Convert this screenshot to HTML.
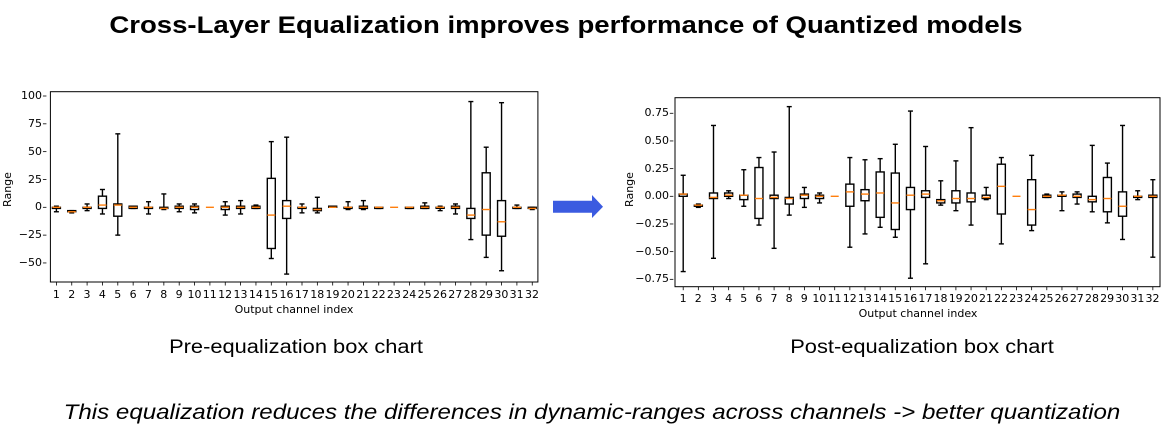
<!DOCTYPE html>
<html><head><meta charset="utf-8"><style>
body{margin:0;width:1170px;height:448px;background:#fff;position:relative;overflow:hidden;font-family:"DejaVu Sans",sans-serif}
.t{position:absolute;white-space:nowrap}
.row{position:absolute;display:flex;font-size:11px;color:#000}
.row span{display:block;text-align:center;overflow:visible;white-space:nowrap}
.yl{position:absolute;font-size:11px;text-align:right;width:40px}
</style></head><body>
<div class="t" style="left:0;width:1132px;text-align:center;top:12px;font:bold 24px 'Liberation Sans',sans-serif;transform:scaleX(1.147)">Cross-Layer Equalization improves performance of Quantized models</div>
<svg id="s" width="1170" height="448" style="position:absolute;left:0;top:0">
<rect x="50.4" y="91.7" width="487.5" height="190.3" fill="none" stroke="#000" stroke-width="1"/>
<rect x="675" y="97.7" width="485" height="189" fill="none" stroke="#000" stroke-width="1"/>
<polygon points="553,200.7 592,200.7 592,195 603,206.7 592,218 592,212.7 553,212.7" fill="#3b5be0"/>
</svg>
<div class="t" style="left:-10px;top:183px;font-size:11px;transform:rotate(-90deg)">Range</div>
<div class="t" style="left:612px;top:183px;font-size:11px;transform:rotate(-90deg)">Range</div>
<div class="yl" style="left:2px;top:89px">100</div>
<div class="yl" style="left:2px;top:117px">75</div>
<div class="yl" style="left:2px;top:145px">50</div>
<div class="yl" style="left:2px;top:173px">25</div>
<div class="yl" style="left:2px;top:200px">0</div>
<div class="yl" style="left:2px;top:228px">−25</div>
<div class="yl" style="left:2px;top:256px">−50</div>
<div class="yl" style="left:629px;top:106px">0.75</div>
<div class="yl" style="left:629px;top:134px">0.50</div>
<div class="yl" style="left:629px;top:162px">0.25</div>
<div class="yl" style="left:629px;top:189px">0.00</div>
<div class="yl" style="left:629px;top:217px">−0.25</div>
<div class="yl" style="left:629px;top:245px">−0.50</div>
<div class="yl" style="left:629px;top:272px">−0.75</div>
<div class="row" style="left:48.7px;top:288px"><span style="width:15.35px">1</span><span style="width:15.35px">2</span><span style="width:15.35px">3</span><span style="width:15.35px">4</span><span style="width:15.35px">5</span><span style="width:15.35px">6</span><span style="width:15.35px">7</span><span style="width:15.35px">8</span><span style="width:15.35px">9</span><span style="width:15.35px">10</span><span style="width:15.35px">11</span><span style="width:15.35px">12</span><span style="width:15.35px">13</span><span style="width:15.35px">14</span><span style="width:15.35px">15</span><span style="width:15.35px">16</span><span style="width:15.35px">17</span><span style="width:15.35px">18</span><span style="width:15.35px">19</span><span style="width:15.35px">20</span><span style="width:15.35px">21</span><span style="width:15.35px">22</span><span style="width:15.35px">23</span><span style="width:15.35px">24</span><span style="width:15.35px">25</span><span style="width:15.35px">26</span><span style="width:15.35px">27</span><span style="width:15.35px">28</span><span style="width:15.35px">29</span><span style="width:15.35px">30</span><span style="width:15.35px">31</span><span style="width:15.35px">32</span></div>
<div class="row" style="left:675.6px;top:292px"><span style="width:15.15px">1</span><span style="width:15.15px">2</span><span style="width:15.15px">3</span><span style="width:15.15px">4</span><span style="width:15.15px">5</span><span style="width:15.15px">6</span><span style="width:15.15px">7</span><span style="width:15.15px">8</span><span style="width:15.15px">9</span><span style="width:15.15px">10</span><span style="width:15.15px">11</span><span style="width:15.15px">12</span><span style="width:15.15px">13</span><span style="width:15.15px">14</span><span style="width:15.15px">15</span><span style="width:15.15px">16</span><span style="width:15.15px">17</span><span style="width:15.15px">18</span><span style="width:15.15px">19</span><span style="width:15.15px">20</span><span style="width:15.15px">21</span><span style="width:15.15px">22</span><span style="width:15.15px">23</span><span style="width:15.15px">24</span><span style="width:15.15px">25</span><span style="width:15.15px">26</span><span style="width:15.15px">27</span><span style="width:15.15px">28</span><span style="width:15.15px">29</span><span style="width:15.15px">30</span><span style="width:15.15px">31</span><span style="width:15.15px">32</span></div>
<div class="t" style="left:194px;width:200px;text-align:center;top:303px;font-size:11px">Output channel index</div>
<div class="t" style="left:818px;width:200px;text-align:center;top:307px;font-size:11px">Output channel index</div>
<div class="t" style="left:146px;width:300px;text-align:center;top:337px;font:19px 'Liberation Sans',sans-serif;transform:scaleX(1.15)">Pre-equalization box chart</div>
<div class="t" style="left:772px;width:300px;text-align:center;top:337px;font:19px 'Liberation Sans',sans-serif;transform:scaleX(1.15)">Post-equalization box chart</div>
<div class="t" style="left:0;width:1184px;text-align:center;top:401px;font:italic 21px 'Liberation Sans',sans-serif;transform:scaleX(1.148)">This equalization reduces the differences in dynamic-ranges across channels -&gt; better quantization</div>
<script>
var L=[[-4,-1,0,0,1],[-5,-4,-4,-3,-3],[-3,-1,0,0,3],[-6,-1,2,10,16],[-25,-8,2,3,66],[-1,-1,0,1,1],[-6,-1,0,0,5],[-2,-1,-1,0,12],[-4,-1,0,1,3],[-5,-2,0,1,3],[0,0,0,0,0],[-7,-2,0,1,5],[-6,-1,0,1,6],[-1,-1,0,1,2],[-46,-37,-7,26,59],[-60,-10,1,6,63],[-5,-1,0,0,3],[-5,-3,-2,-1,9],[0,0,0,1,1],[-2,-1,0,0,5],[-2,-1,0,1,6],[-1,-1,0,0,0],[0,0,0,0,0],[-1,-1,0,0,0],[-1,-1,0,1,4],[-3,0,0,0,1],[-6,-1,0,1,3],[-29,-10,-7,-1,95],[-45,-25,-2,31,54],[-57,-26,-13,6,94],[-1,-1,0,0,2],[-2,-1,-1,0,0]];
var R=[[-.68,0,.02,.02,.19],[-.1,-.09,-.08,-.08,-.07],[-.56,-.02,-.01,.03,.64],[-.02,0,.01,.03,.05],[-.09,-.03,.01,.01,.24],[-.26,-.2,-.02,.26,.35],[-.47,-.02,-.01,.01,.4],[-.17,-.07,-.02,-.01,.81],[-.1,-.02,.01,.02,.08],[-.06,-.02,0,.01,.03],[0,0,0,0,0],[-.46,-.09,.04,.11,.35],[-.34,-.04,.02,.06,.33],[-.28,-.19,.03,.22,.34],[-.37,-.3,-.06,.21,.47],[-.74,-.12,.01,.08,.77],[-.61,-.01,.02,.05,.45],[-.08,-.06,-.04,-.03,.14],[-.13,-.06,-.02,.05,.32],[-.26,-.05,-.02,.03,.62],[-.03,-.02,-.01,.01,.08],[-.43,-.16,.09,.29,.35],[0,0,0,0,0],[-.31,-.26,-.12,.15,.37],[-.01,-.01,0,.01,.02],[-.13,0,.01,.01,.04],[-.07,-.01,0,.02,.04],[-.14,-.05,-.03,0,.46],[-.24,-.14,-.02,.17,.3],[-.39,-.18,-.09,.04,.64],[-.03,-.01,0,0,.05],[-.55,-.01,0,.01,.15]];
var s=document.getElementById('s'),h='';
function draw(D,x0,dx,y0,k,yb,ticks){
 for(var i=0;i<32;i++){var x=x0+i*dx,d=D[i],y=d.map(function(v){return y0-v*k});
  h+='<line x1="'+x+'" x2="'+x+'" y1="'+yb+'" y2="'+(yb+3.5)+'" stroke="#000" stroke-width="0.8"/>';
  var g='stroke="#000" stroke-width="1.4" fill="none"';
  if(d[4]-d[0]!=0){
  h+='<line x1="'+x+'" x2="'+x+'" y1="'+y[0]+'" y2="'+y[1]+'" '+g+'/><line x1="'+x+'" x2="'+x+'" y1="'+y[3]+'" y2="'+y[4]+'" '+g+'/>';
  h+='<line x1="'+(x-2.5)+'" x2="'+(x+2.5)+'" y1="'+y[0]+'" y2="'+y[0]+'" '+g+'/><line x1="'+(x-2.5)+'" x2="'+(x+2.5)+'" y1="'+y[4]+'" y2="'+y[4]+'" '+g+'/>';
  h+='<rect x="'+(x-4)+'" y="'+y[3]+'" width="8" height="'+Math.max(y[1]-y[3],1)+'" '+g+'/>';}
  h+='<line x1="'+(x-4)+'" x2="'+(x+4)+'" y1="'+y[2]+'" y2="'+y[2]+'" stroke="#ff7f0e" stroke-width="1.4"/>';
 }
 ticks.forEach(function(v){var y=y0-v*k;h+='<line x1="'+(x0-dx/2-2.3-3.5)+'" x2="'+(x0-dx/2-2.3)+'" y1="'+y+'" y2="'+y+'" stroke="#000" stroke-width="0.8"/>';});
}
draw(L,56.4,15.35,207.3,1.113,282,[100,75,50,25,0,-25,-50]);
draw(R,683.2,15.15,196.3,110.7,286.7,[.75,.5,.25,0,-.25,-.5,-.75]);
s.insertAdjacentHTML('beforeend',h);
</script>
</body></html>
